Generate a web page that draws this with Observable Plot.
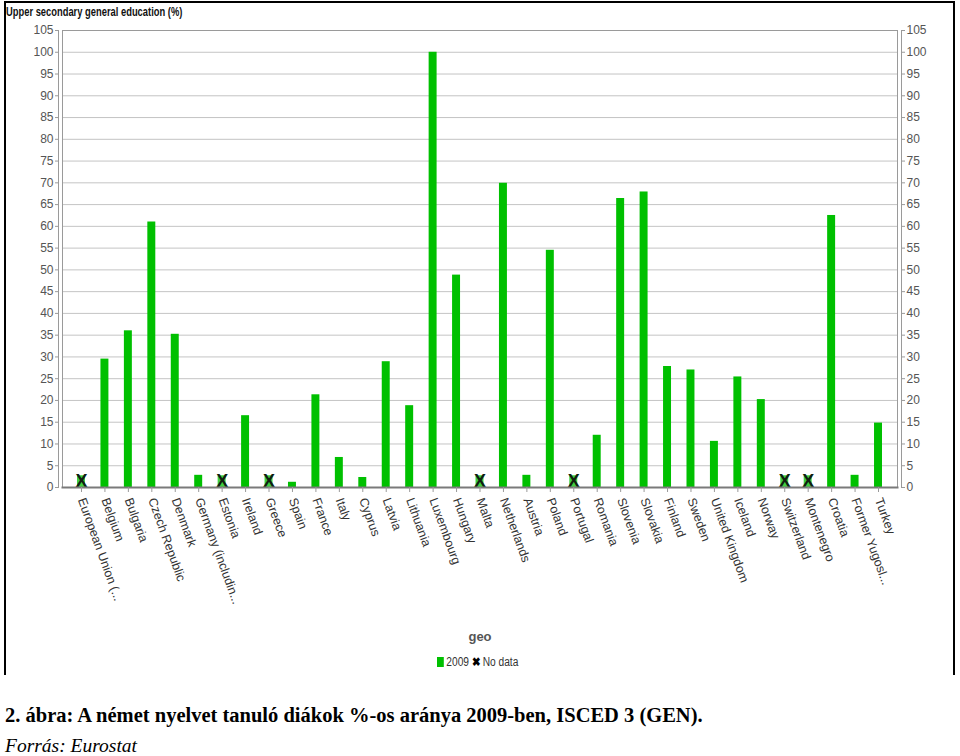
<!DOCTYPE html>
<html><head><meta charset="utf-8">
<script src="https://cdn.jsdelivr.net/npm/d3@7"></script>
<script src="https://cdn.jsdelivr.net/npm/@observablehq/plot@0.6"></script>
<style>
body{margin:0;background:#fff;width:960px;height:756px;overflow:hidden;position:relative;font-family:"Liberation Sans",Arial,sans-serif}
#frame{position:absolute;left:4px;top:1px;width:951px;height:674px;border:2px solid #000;border-bottom:none;box-sizing:border-box}
#chart{position:absolute;left:0;top:0}
#title{position:absolute;left:6px;top:4px;font:bold 13px "Liberation Sans",Arial,sans-serif;color:#111;transform:scaleX(0.72);transform-origin:0 0;white-space:nowrap}
#geo{position:absolute;left:0;width:960px;text-align:center;top:629px;font:bold 13px "Liberation Sans",Arial,sans-serif;color:#555}
#legend{position:absolute;left:437px;top:655px;font:12px "Liberation Sans",Arial,sans-serif;color:#333;white-space:nowrap;transform:scaleX(0.85);transform-origin:0 0}
#legend .sw{display:inline-block;width:8px;height:10px;background:#00c000;margin-right:3px;vertical-align:-1px}
#legend .x{font-weight:bold;color:#000;margin:0 2px 0 4px}
#caption{position:absolute;left:5px;top:704px;font:bold 20.5px "Liberation Serif","Times New Roman",serif;color:#000;white-space:nowrap}
#source{position:absolute;left:5px;top:735px;font:italic 19.5px "Liberation Serif","Times New Roman",serif;color:#000;white-space:nowrap}
</style></head>
<body>
<div id="chart"></div>
<div id="frame"></div>
<div id="title">Upper secondary general education (%)</div>
<div id="geo">geo</div>
<div id="legend"><span class="sw"></span>2009<span class="x">✖</span>No data</div>
<div id="caption">2. ábra: A német nyelvet tanuló diákok %-os aránya 2009-ben, ISCED 3 (GEN).</div>
<div id="source">Forrás: Eurostat</div>
<script>
const countries = ["European Union (...","Belgium","Bulgaria","Czech Republic","Denmark","Germany (includin...","Estonia","Ireland","Greece","Spain","France","Italy","Cyprus","Latvia","Lithuania","Luxembourg","Hungary","Malta","Netherlands","Austria","Poland","Portugal","Romania","Slovenia","Slovakia","Finland","Sweden","United Kingdom","Iceland","Norway","Switzerland","Montenegro","Croatia","Former Yugosl...","Turkey"];
const values2009 = [null,29.5,36,61,35.2,2.8,null,16.5,null,1.2,21.3,6.9,2.3,28.9,18.8,100,48.8,null,69.9,2.8,54.5,null,12,66.4,67.9,27.8,27,10.6,25.4,20.2,null,null,62.5,2.8,14.8];
const noDataMarker = 2.7;
const yTicks = d3.range(0, 106, 5);

const data = countries.map((c, i) => ({geo: c, value: values2009[i]}));
const present = data.filter(d => d.value != null);
const missing = data.filter(d => d.value == null).map(d => ({geo: d.geo, value: noDataMarker}));

const green = "#00c000";
const numFont = "'Liberation Sans',Arial,sans-serif";

const chart = Plot.plot({
  width: 960,
  height: 675,
  marginLeft: 62,
  marginRight: 63,
  marginTop: 30,
  marginBottom: 188,
  style: {background: "transparent", fontFamily: "'Liberation Sans',Arial,sans-serif"},
  x: {domain: countries, type: "band", paddingInner: 0.66, paddingOuter: 0.64, round: false, label: null},
  y: {domain: [0, 105], label: null},
  marks: [
    Plot.gridY(yTicks, {stroke: "#c4c4c4", strokeOpacity: 1}),
    Plot.frame({stroke: "#9a9a9a"}),
    Plot.frame({anchor: "left", dx: -4, stroke: "#9a9a9a"}),
    Plot.frame({anchor: "right", dx: 4, stroke: "#9a9a9a"}),
    Plot.barY(present, {x: "geo", y: "value", fill: green}),
    Plot.barY(missing, {x: "geo", y: "value", fill: green, fillOpacity: 0.75}),
    Plot.text(missing, {x: "geo", y: d => d.value / 2, text: () => "X", fontSize: 18, fontWeight: "bold", fill: "#102010", fontFamily: numFont}),
    Plot.frame({anchor: "bottom", stroke: "#7a7a7a", strokeWidth: 2}),
    Plot.axisY({anchor: "left", ticks: yTicks, tickSize: 3, tickPadding: 2, dx: -4, fill: "#555", stroke: "#9a9a9a", fontSize: 12, fontFamily: numFont, label: null}),
    Plot.axisY({anchor: "right", ticks: yTicks, tickSize: 3, tickPadding: 2, dx: 4, fill: "#555", stroke: "#9a9a9a", fontSize: 12, fontFamily: numFont, label: null}),
    Plot.axisX({tickRotate: 70, tickSize: 5, tickPadding: 6, fill: "#333", stroke: "#9a9a9a", fontSize: 12.5, label: null})
  ]
});
document.getElementById("chart").appendChild(chart);
</script>
</body></html>
